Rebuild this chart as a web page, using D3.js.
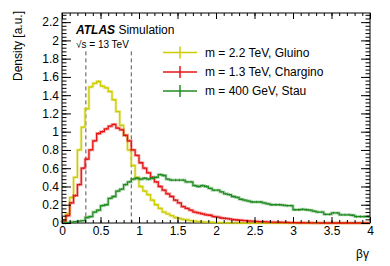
<!DOCTYPE html>
<html><head><meta charset="utf-8">
<script src="https://cdn.jsdelivr.net/npm/d3@7"></script>
<style>body{margin:0;background:#fff}svg{display:block;font-family:"Liberation Sans",Arial,Helvetica,sans-serif}</style>
</head><body><svg id="c" width="390" height="266"></svg>
<script>
// histogram bins: width 0.05 in beta*gamma, starting at 0
const binStart = 0;
const binWidth = 0.05;
const gluino = [0.03,0.10,0.28,0.50,0.80,1.05,1.25,1.49,1.53,1.55,
  1.50,1.48,1.44,1.35,1.22,1.07,0.96,0.80,0.63,0.50,
  0.40,0.35,0.31,0.25,0.20,0.16,0.12,0.10,0.08,0.06,
  0.05,0.04,0.035,0.025,0.02,0.016,0.012,0.01,0.008,0.006,
  0.005,0.004,0.003,0.002,0.002,0.001,0,0,0,0,
  0,0,0,0,0,0,0,0,0,0,0,0,0,0,0,0,0,0,0,0,0,0,0,0,0,0,0,0,0,0];
const chargino = [0.02,0.08,0.22,0.30,0.42,0.60,0.70,0.80,0.90,0.98,
  1.00,1.03,1.06,1.08,1.04,1.02,0.96,0.90,0.80,0.74,
  0.66,0.60,0.55,0.50,0.45,0.40,0.36,0.32,0.29,0.25,
  0.22,0.18,0.16,0.14,0.12,0.11,0.10,0.09,0.085,0.07,
  0.065,0.055,0.05,0.045,0.038,0.033,0.03,0.027,0.022,0.02,
  0.018,0.016,0.014,0.012,0.01,0.009,0.008,0.007,0.006,0.005,
  0.004,0.003,0.003,0.002,0.002,0.001,0.001,0,0,0,0,0,0,0,0,0,0,0,0,0];
const stau = [0.0,0.005,0.01,0.015,0.02,0.025,0.06,0.07,0.12,0.14,
  0.19,0.20,0.27,0.29,0.35,0.37,0.42,0.45,0.48,0.49,
  0.48,0.49,0.48,0.49,0.50,0.53,0.52,0.48,0.47,0.47,
  0.47,0.47,0.45,0.45,0.41,0.40,0.41,0.40,0.38,0.36,
  0.36,0.34,0.32,0.31,0.29,0.28,0.26,0.25,0.24,0.23,
  0.23,0.23,0.22,0.21,0.20,0.20,0.20,0.195,0.19,0.19,
  0.145,0.145,0.15,0.145,0.14,0.13,0.12,0.12,0.095,0.095,
  0.11,0.11,0.09,0.09,0.09,0.085,0.07,0.07,0.07,0.07];
const seriesLabels = ["m = 2.2 TeV, Gluino","m = 1.3 TeV, Chargino","m = 400 GeV, Stau"];
const seriesColors = ["#cccc00","#e41414","#238b23"];
const xTicks = [0,0.5,1,1.5,2,2.5,3,3.5,4];
const yTicks = [0,0.2,0.4,0.6,0.8,1,1.2,1.4,1.6,1.8,2,2.2];
const cutLines = [0.31,0.9];
const cutTop = 1.88;

const svg = d3.select("#c");
const x = d3.scaleLinear().domain([0,4]).range([62,370]);
const y = d3.scaleLinear().domain([0,2.3]).range([223,13]);
const fmt = d => d===0 ? "0" : String(d);

// frame
svg.append("rect").attr("x",62).attr("y",13).attr("width",308).attr("height",210)
  .attr("fill","none").attr("stroke","#000").attr("stroke-width",1);

// dashed cut lines
svg.selectAll("line.cut").data(cutLines).join("line").attr("class","cut")
  .attr("x1",d=>x(d)).attr("x2",d=>x(d)).attr("y1",y(cutTop)).attr("y2",y(0))
  .attr("stroke","#555").attr("stroke-width",1).attr("stroke-dasharray","4,3");

// histograms
const data = [gluino, chargino, stau];
const line = d3.line().x(d=>x(d[0])).y(d=>y(d[1])).curve(d3.curveStepAfter);
data.forEach((vals,k)=>{
  const pts = [[binStart,0]];
  vals.forEach((v,i)=>pts.push([binStart+i*binWidth, v]));
  pts.push([binStart+vals.length*binWidth, vals[vals.length-1]]);
  svg.append("path").attr("d", line(pts)).attr("fill","none")
    .attr("stroke", seriesColors[k]).attr("stroke-opacity",0.3).attr("stroke-width",3);
  svg.append("path").attr("d", line(pts)).attr("fill","none")
    .attr("stroke", seriesColors[k]).attr("stroke-width",1.3);
  svg.append("g").selectAll("line").data(vals.map((v,i)=>[binStart+(i+0.5)*binWidth,v]).filter(d=>d[1]>0.03))
    .join("line").attr("x1",d=>x(d[0])).attr("x2",d=>x(d[0]))
    .attr("y1",d=>y(d[1])-1.2).attr("y2",d=>y(d[1])+1.2)
    .attr("stroke",seriesColors[k]).attr("stroke-width",0.8);
});

// axes
const xMinor = d3.range(0,4.0001,0.1);
const yMinor = d3.range(0,2.3001,0.04);
const axStyle = g => { g.select(".domain").remove(); g.selectAll("line").attr("stroke","#000");
  g.selectAll("text").attr("font-size",12).attr("fill","#000").attr("font-family",'"Liberation Sans",Arial,sans-serif'); };
svg.append("g").attr("transform","translate(0,223)")
  .call(d3.axisBottom(x).tickValues(xMinor).tickSize(-3).tickFormat("")).call(axStyle);
svg.append("g").attr("transform","translate(0,223)")
  .call(d3.axisBottom(x).tickValues(xTicks).tickSize(-6).tickPadding(3).tickFormat(fmt)).call(axStyle);
svg.append("g").attr("transform","translate(0,13)")
  .call(d3.axisTop(x).tickValues(xMinor).tickSize(-3).tickFormat("")).call(axStyle);
svg.append("g").attr("transform","translate(0,13)")
  .call(d3.axisTop(x).tickValues(xTicks).tickSize(-6).tickFormat("")).call(axStyle);
svg.append("g").attr("transform","translate(62,0)")
  .call(d3.axisLeft(y).tickValues(yMinor).tickSize(-4.5).tickFormat("")).call(axStyle);
svg.append("g").attr("transform","translate(62,0)")
  .call(d3.axisLeft(y).tickValues(yTicks).tickSize(-9).tickPadding(3).tickFormat(fmt)).call(axStyle);
svg.append("g").attr("transform","translate(370,0)")
  .call(d3.axisRight(y).tickValues(yMinor).tickSize(-4.5).tickFormat("")).call(axStyle);
svg.append("g").attr("transform","translate(370,0)")
  .call(d3.axisRight(y).tickValues(yTicks).tickSize(-9).tickFormat("")).call(axStyle);

// axis titles
svg.append("text").attr("transform","translate(22,11) rotate(-90)").attr("text-anchor","end")
  .attr("font-size",12).text("Density [a.u.]");
svg.append("text").attr("x",369).attr("y",258).attr("text-anchor","end")
  .attr("font-size",12).text("βγ");

// ATLAS label
const at = svg.append("text").attr("x",76).attr("y",34).attr("font-size",12);
at.append("tspan").attr("font-weight","bold").attr("font-style","italic").text("ATLAS");
at.append("tspan").text(" Simulation");
svg.append("text").attr("x",76).attr("y",48).attr("font-size",10).text("√s = 13 TeV");

// legend
const legY = [52.5,72,91];
seriesLabels.forEach((lab,k)=>{
  const g = svg.append("g");
  g.append("line").attr("x1",163).attr("x2",197).attr("y1",legY[k]).attr("y2",legY[k])
    .attr("stroke",seriesColors[k]).attr("stroke-width",1.5);
  g.append("line").attr("x1",180).attr("x2",180).attr("y1",legY[k]-6).attr("y2",legY[k]+6)
    .attr("stroke",seriesColors[k]).attr("stroke-width",1.5);
  g.append("text").attr("x",205).attr("y",legY[k]+4.3).attr("font-size",12).text(lab);
});
</script></body></html>
